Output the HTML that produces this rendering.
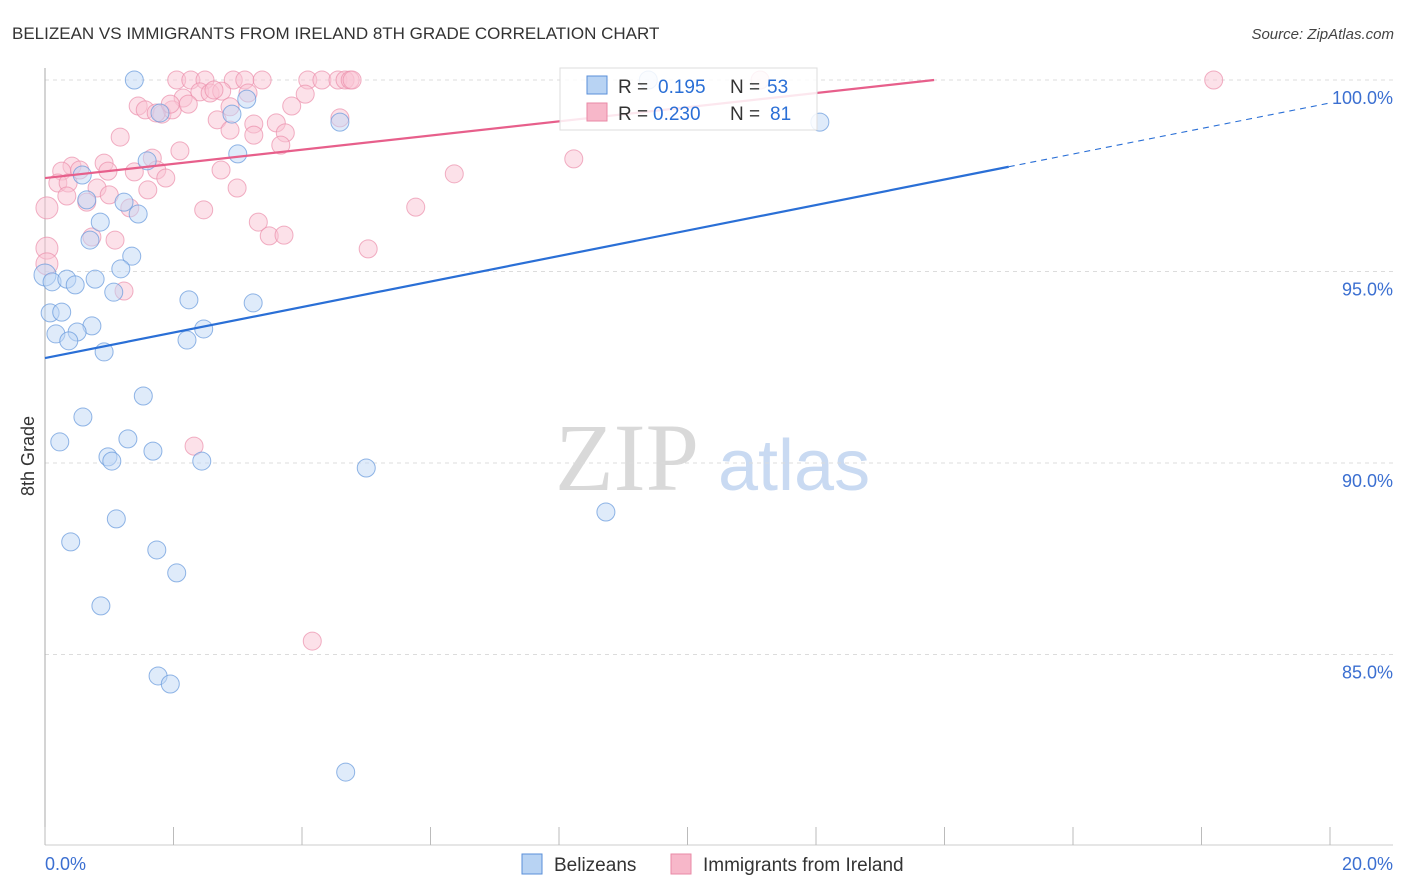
<!DOCTYPE html>
<html><head><meta charset="utf-8"><style>
body{margin:0;background:#fff;font-family:"Liberation Sans",sans-serif;}
svg{display:block}
</style></head><body>
<svg id="chart" width="1406" height="892">
<text x="12" y="39" font-size="17" fill="#333">BELIZEAN VS IMMIGRANTS FROM IRELAND 8TH GRADE CORRELATION CHART</text>
<text x="1394" y="39" font-size="15" fill="#444" font-style="italic" text-anchor="end">Source: ZipAtlas.com</text>
<text x="555" y="490" font-size="96" fill="#d9d9d9" font-family="Liberation Serif,serif">ZIP</text>
<text x="718" y="490" font-size="72" fill="#c9daf2">atlas</text>
<text transform="translate(34,456) rotate(-90)" font-size="18" fill="#333" text-anchor="middle">8th Grade</text>
<g id="grid"></g><g id="axes"></g><g id="pts"></g><g id="lines"></g>
<g>
<rect x="560" y="68" width="257" height="62" fill="#fff" fill-opacity="0.85" stroke="#ddd"/>
<rect x="587" y="76" width="20" height="18" fill="#b8d3f3" stroke="#5a8fd8"/>
<text x="618" y="93" font-size="19" fill="#333">R =</text>
<text x="658" y="93" font-size="19" fill="#2a6fd6">0.195</text>
<text x="730" y="93" font-size="19" fill="#333">N =</text>
<text x="767" y="93" font-size="19" fill="#2a6fd6">53</text>
<rect x="587" y="103" width="20" height="18" fill="#f7b7c9" stroke="#e98aa6"/>
<text x="618" y="120" font-size="19" fill="#333">R =</text>
<text x="653" y="120" font-size="19" fill="#2a6fd6">0.230</text>
<text x="730" y="120" font-size="19" fill="#333">N =</text>
<text x="770" y="120" font-size="19" fill="#2a6fd6">81</text>
</g>
<g>
<rect x="522" y="854" width="20" height="20" fill="#b8d3f3" stroke="#5a8fd8"/>
<text x="554" y="871" font-size="19" fill="#333">Belizeans</text>
<rect x="671" y="854" width="20" height="20" fill="#f7b7c9" stroke="#e98aa6"/>
<text x="703" y="871" font-size="19" fill="#333">Immigrants from Ireland</text>
</g>
</svg>
<script>
const xTicks=[0,2,4,6,8,10,12,14,16,18,20];
const yTicks=[85,90,95,100];
const yTickLabels=["85.0%","90.0%","95.0%","100.0%"];
const blueX=[1.39,1.79,2.91,3.14,4.59,3.00,1.59,0.58,0.65,1.23,1.45,0.86,0.70,1.35,1.18,0,0.11,0.34,0.78,0.47,1.07,2.24,3.24,0.08,0.26,0.73,0.50,0.17,0.37,2.21,2.47,0.92,1.53,0.59,0.23,1.29,1.68,0.98,1.04,2.44,5.00,8.73,1.11,0.40,1.74,2.05,0.87,1.76,1.95,4.68,12.06,9.39];
const blueY=[100,99.14,99.11,99.5,98.9,98.07,97.89,97.52,96.87,96.81,96.5,96.29,95.82,95.4,95.07,94.91,94.73,94.8,94.8,94.65,94.46,94.26,94.18,93.92,93.94,93.58,93.42,93.37,93.19,93.21,93.5,92.9,91.75,91.2,90.55,90.63,90.31,90.16,90.05,90.05,89.87,88.72,88.54,87.94,87.73,87.13,86.27,84.44,84.23,81.93,98.9,100];
const pinkX=[2.05,2.27,2.49,2.93,3.11,3.38,4.09,4.31,4.56,4.67,4.75,4.78,11.13,18.19,3.16,2.15,2.41,2.57,2.75,2.63,4.05,3.84,1.45,1.56,1.82,1.98,1.73,2.23,1.95,2.88,2.68,2.88,3.25,3.60,3.74,3.67,4.59,3.25,1.17,2.10,1.67,0.92,0.42,0.26,0.54,0.98,1.39,1.74,0.81,1.00,1.88,0.20,0.36,0.34,1.60,2.74,2.99,0.03,0.65,1.32,2.47,3.32,3.49,3.72,8.23,6.37,5.77,5.03,0.03,0.03,0.73,1.09,1.23,2.32,4.16];
const pinkY=[100,100,100,100,100,100,100,100,100,100,100,100,100,100,99.66,99.53,99.69,99.66,99.71,99.74,99.63,99.32,99.32,99.22,99.11,99.22,99.14,99.37,99.37,99.3,98.96,98.69,98.85,98.88,98.62,98.3,99.01,98.56,98.51,98.15,97.96,97.83,97.75,97.62,97.65,97.62,97.6,97.65,97.18,97,97.44,97.31,97.31,96.97,97.13,97.65,97.18,96.66,96.81,96.66,96.61,96.29,95.93,95.95,97.94,97.55,96.68,95.59,95.61,95.2,95.9,95.82,94.49,90.44,85.35];
const blueTrend=[92.74,99.40];
const pinkTrend=[97.44,0.185];
const X=v=>45+v*64.25, Y=v=>80+(100-v)*38.3;
const NS="http://www.w3.org/2000/svg";
function mk(t,p,a){const e=document.createElementNS(NS,t);for(const k in a)e.setAttribute(k,a[k]);p.appendChild(e);return e;}
const grid=document.getElementById('grid'),axes=document.getElementById('axes'),pts=document.getElementById('pts'),lines=document.getElementById('lines');
yTicks.forEach((v,i)=>{
 const g=mk('line',grid,{x1:45,x2:1393,y1:Y(v),y2:Y(v),stroke:'#dcdcdc','stroke-dasharray':'4,4'});
 
 
 const t=mk('text',axes,{x:1393,y:Y(v)+24,'font-size':18,fill:'#3b6fd1','text-anchor':'end'});t.textContent=yTickLabels[i];
 
 
});
const ax=mk('line',axes,{x1:45,x2:45,y1:68,y2:845,stroke:'#aaa'});


const bx=mk('line',axes,{x1:45,x2:1393,y1:845,y2:845,stroke:'#ccc'});


xTicks.forEach(v=>{const l=mk('line',axes,{x1:X(v),x2:X(v),y1:827,y2:845,stroke:'#bbb'});
 
 });
const x0=mk('text',axes,{x:45,y:870,'font-size':18,fill:'#3b6fd1'});x0.textContent=xTicks[0].toFixed(1)+'%';


const x1=mk('text',axes,{x:1393,y:870,'font-size':18,fill:'#3b6fd1','text-anchor':'end'});x1.textContent=xTicks[xTicks.length-1].toFixed(1)+'%';


function dots(xs,ys,fill,stroke,name){xs.forEach((v,i)=>{const r=v<0.05?11:9;
 const c=mk('circle',pts,{cx:X(v),cy:Y(ys[i]),r:r,fill:fill,'fill-opacity':0.5,stroke:stroke,'stroke-width':1,'stroke-opacity':0.7});
 
 });}
dots(pinkX,pinkY,'#f9c3d3','#eb8fab','ireland-point');
dots(blueX,blueY,'#c0d8f5','#6497db','belizean-point');
const bs=X(15.0),bsY=blueTrend[0]+(blueTrend[1]-blueTrend[0])*15/20;
const l1=mk('line',lines,{x1:X(0),y1:Y(blueTrend[0]),x2:bs,y2:Y(bsY),stroke:'#2a6fd6','stroke-width':2.2});


const l2=mk('line',lines,{x1:bs,y1:Y(bsY),x2:X(20),y2:Y(blueTrend[1]),stroke:'#2a6fd6','stroke-width':1.1,'stroke-dasharray':'6,5'});


const pe=(100-pinkTrend[0])/pinkTrend[1];
const l3=mk('line',lines,{x1:X(0),y1:Y(pinkTrend[0]),x2:X(pe),y2:Y(100),stroke:'#e75f8b','stroke-width':2.2});


</script>
</body></html>
